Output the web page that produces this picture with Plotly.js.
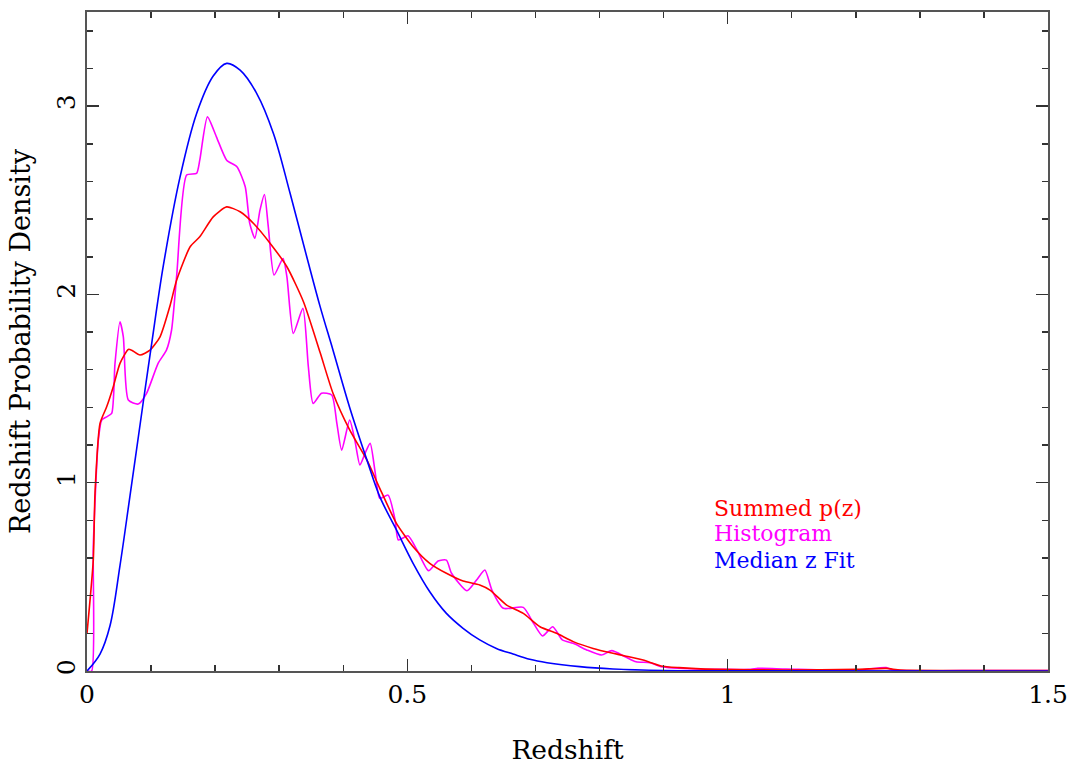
<!DOCTYPE html>
<html>
<head>
<meta charset="utf-8">
<script src="https://cdn.plot.ly/plotly-3.0.1.min.js"></script>
<style>
  html, body { margin: 0; padding: 0; background: #fff; }
  #chart { width: 1076px; height: 765px; }
</style>
</head>
<body>
<div id="chart"></div>
<script>
// Summed p(z) (red)
const summedZ = [0, 0.0098, 0.0125, 0.0203, 0.0307, 0.041, 0.0515, 0.0645, 0.0697, 0.0827, 0.0983, 0.114, 0.1296, 0.14, 0.161, 0.176, 0.197, 0.218, 0.239, 0.26, 0.286, 0.312, 0.338, 0.364, 0.384, 0.41, 0.437, 0.457, 0.483, 0.509, 0.535, 0.561, 0.587, 0.613, 0.629, 0.655, 0.681, 0.707, 0.733, 0.759, 0.79, 0.821, 0.840, 0.868, 0.896, 0.924, 0.98, 1.091, 1.203, 1.2475, 1.27, 1.4, 1.5];
const summedP = [0.2, 0.589, 0.944, 1.315, 1.403, 1.51, 1.634, 1.708, 1.704, 1.678, 1.704, 1.775, 1.94, 2.076, 2.253, 2.306, 2.412, 2.465, 2.439, 2.377, 2.271, 2.147, 1.96, 1.69, 1.475, 1.28, 1.12, 0.97, 0.784, 0.66, 0.572, 0.519, 0.478, 0.457, 0.43, 0.35, 0.306, 0.235, 0.2, 0.156, 0.12, 0.094, 0.08, 0.058, 0.027, 0.018, 0.009, 0.005, 0.009, 0.014, 0.005, 0.003, 0.002];

// Histogram (magenta)
const histZ = [0, 0.0073, 0.0098, 0.0177, 0.023, 0.0307, 0.0385, 0.0437, 0.0515, 0.0567, 0.0645, 0.08, 0.093, 0.111, 0.124, 0.132, 0.14, 0.1556, 0.171, 0.176, 0.188, 0.202, 0.218, 0.234, 0.247, 0.254, 0.262, 0.27, 0.277, 0.283, 0.292, 0.306, 0.312, 0.322, 0.337, 0.3455, 0.353, 0.366, 0.382, 0.39, 0.3975, 0.41, 0.418, 0.426, 0.434, 0.442, 0.45, 0.457, 0.470, 0.481, 0.486, 0.501, 0.515, 0.533, 0.548, 0.561, 0.569, 0.593, 0.608, 0.621, 0.632, 0.650, 0.681, 0.697, 0.711, 0.727, 0.742, 0.759, 0.78, 0.803, 0.819, 0.840, 0.857, 0.879, 0.896, 0.952, 1.036, 1.047, 1.091, 1.203, 1.2475, 1.258, 1.4, 1.5];
const histP = [0, 0, 0.66, 1.227, 1.333, 1.35, 1.368, 1.634, 1.855, 1.775, 1.439, 1.418, 1.475, 1.634, 1.704, 1.811, 2.1, 2.634, 2.643, 2.713, 2.943, 2.837, 2.713, 2.678, 2.572, 2.377, 2.298, 2.448, 2.531, 2.359, 2.103, 2.191, 2.094, 1.793, 1.926, 1.616, 1.421, 1.475, 1.466, 1.315, 1.173, 1.333, 1.227, 1.094, 1.156, 1.209, 1.05, 0.917, 0.934, 0.80, 0.696, 0.718, 0.643, 0.533, 0.584, 0.589, 0.519, 0.426, 0.483, 0.536, 0.43, 0.333, 0.338, 0.253, 0.186, 0.235, 0.165, 0.147, 0.112, 0.085, 0.108, 0.076, 0.049, 0.044, 0.023, 0.011, 0.009, 0.014, 0.011, 0.005, 0.018, 0.005, 0.003, 0.002];

// Median z Fit (blue)
const fitZ = [0, 0.0203, 0.0359, 0.0515, 0.0671, 0.0879, 0.101, 0.119, 0.145, 0.171, 0.197, 0.218, 0.239, 0.265, 0.291, 0.317, 0.343, 0.364, 0.384, 0.41, 0.437, 0.457, 0.483, 0.509, 0.535, 0.561, 0.587, 0.613, 0.639, 0.665, 0.691, 0.718, 0.769, 0.821, 0.9, 1.0, 1.5];
const fitP = [0, 0.09, 0.24, 0.56, 0.93, 1.43, 1.74, 2.15, 2.62, 2.96, 3.16, 3.227, 3.191, 3.067, 2.855, 2.537, 2.2, 1.934, 1.704, 1.40, 1.12, 0.926, 0.749, 0.572, 0.421, 0.306, 0.227, 0.165, 0.12, 0.09, 0.062, 0.044, 0.023, 0.011, 0.003, 0.001, 0];

const legendLabels = ["Summed p(z)", "Histogram", "Median z Fit"];
const colors = ["#ff0000", "#ff00ff", "#0000ff"];

const FONT = "DejaVu Serif, serif";

const traces = [
  { x: summedZ, y: summedP, name: legendLabels[0], mode: "lines",
    line: { color: colors[0], width: 1.6, shape: "spline", smoothing: 0.6 } },
  { x: histZ, y: histP, name: legendLabels[1], mode: "lines",
    line: { color: colors[1], width: 1.6, shape: "spline", smoothing: 0.6 } },
  { x: fitZ, y: fitP, name: legendLabels[2], mode: "lines",
    line: { color: colors[2], width: 1.6, shape: "spline", smoothing: 1 } }
];
const ordered = [traces[1], traces[0], traces[2]];

const axisCommon = {
  showgrid: false, zeroline: false,
  showline: true, linecolor: "#555", linewidth: 2, mirror: "ticks",
  ticks: "inside", ticklen: 12, tickwidth: 1.5, tickcolor: "#333",
  tickfont: { family: FONT, size: 25, color: "#000" }
};

const legendY = [0.2473, 0.2079, 0.1684];

const layout = {
  width: 1076, height: 765,
  margin: { l: 87, r: 28, t: 12, b: 94 },
  paper_bgcolor: "#fff", plot_bgcolor: "#fff",
  showlegend: false,
  font: { family: FONT, color: "#000" },
  xaxis: Object.assign({}, axisCommon, {
    range: [0, 1.5], tick0: 0, dtick: 0.5,
    minor: { dtick: 0.1, ticks: "inside", ticklen: 6, tickwidth: 1.5, tickcolor: "#333" },
    title: { text: "Redshift", font: { family: FONT, size: 26.5 }, standoff: 32 },
    automargin: false
  }),
  yaxis: Object.assign({}, axisCommon, {
    range: [0, 3.5], tick0: 0, dtick: 1, tickangle: -90,
    minor: { dtick: 0.2, ticks: "inside", ticklen: 6, tickwidth: 1.5, tickcolor: "#333" },
    title: { text: "Redshift Probability Density", font: { family: FONT, size: 27 }, standoff: 14 },
    automargin: false
  }),
  annotations: legendLabels.map((t, i) => ({
    text: t, xref: "paper", yref: "paper",
    x: 0.6504, y: legendY[i],
    xanchor: "left", yanchor: "middle", showarrow: false,
    font: { family: FONT, size: 22, color: colors[i] }
  }))
};

Plotly.newPlot("chart", ordered, layout, { displayModeBar: false, staticPlot: true });
</script>
</body>
</html>
